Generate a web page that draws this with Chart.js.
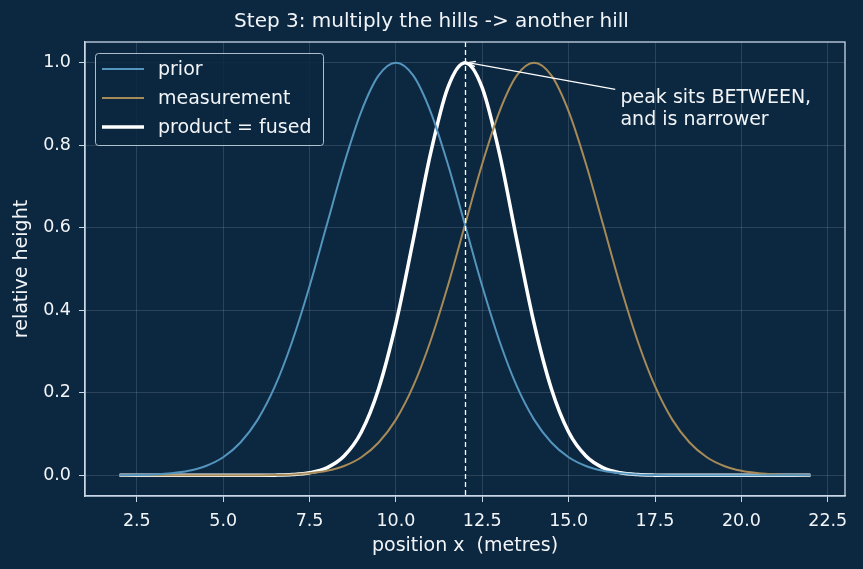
<!DOCTYPE html>
<html>
<head>
<meta charset="utf-8">
<script src="https://cdn.jsdelivr.net/npm/chart.js@4/dist/chart.umd.min.js"></script>
<style>
  html, body { margin: 0; padding: 0; background: #0c2740; }
  #wrap { width: 863px; height: 569px; }
</style>
</head>
<body>
<div id="wrap"><canvas id="chart" width="863" height="569"></canvas></div>
<script>
// positions along the track (metres)
var positions = [2, 2.5, 3, 3.5, 4, 4.5, 5, 5.5, 6, 6.5, 7, 7.5, 8, 8.5, 9, 9.5, 10, 10.5, 11, 11.5,
  12, 12.5, 13, 13.5, 14, 14.5, 15, 15.5, 16, 16.5, 17, 17.5, 18, 18.5, 19, 19.5, 20, 20.5, 21, 21.5, 22];

// hill heights
var prior = [0.0003, 0.0009, 0.0022, 0.0051, 0.0111, 0.0228, 0.0439, 0.0796, 0.135, 0.216, 0.325, 0.458,
  0.607, 0.755, 0.882, 0.969, 1.0, 0.969, 0.882, 0.755, 0.607, 0.458, 0.325, 0.216, 0.135, 0.0796, 0.0439,
  0.0228, 0.0111, 0.0051, 0.0022, 0.0009, 0.0003, 0, 0, 0, 0, 0, 0, 0, 0];
var measurement = [0, 0, 0, 0, 0, 0, 0, 0, 0.0003, 0.0009, 0.0022, 0.0051, 0.0111, 0.0228, 0.0439, 0.0796,
  0.135, 0.216, 0.325, 0.458, 0.607, 0.755, 0.882, 0.969, 1.0, 0.969, 0.882, 0.755, 0.607, 0.458, 0.325,
  0.216, 0.135, 0.0796, 0.0439, 0.0228, 0.0111, 0.0051, 0.0022, 0.0009, 0.0003];
var fused = [0, 0, 0, 0, 0, 0, 0, 0, 0.0001, 0.0005, 0.0019, 0.0063, 0.0183, 0.0468, 0.105, 0.210, 0.368,
  0.570, 0.779, 0.939, 1.0, 0.939, 0.779, 0.570, 0.368, 0.210, 0.105, 0.0468, 0.0183, 0.0063, 0.0019,
  0.0005, 0.0001, 0, 0, 0, 0, 0, 0, 0, 0];

var xTicks = [2.5, 5, 7.5, 10, 12.5, 15, 17.5, 20, 22.5];
var yTicks = [0, 0.2, 0.4, 0.6, 0.8, 1.0];
var peakX = 12;
var titleText = "Step 3: multiply the hills -> another hill";
var noteLines = ["peak sits BETWEEN,", "and is narrower"];

var BG = "#0c2740";
var FG = "#f2f5f8";
var SPINE = "#c9d8e6";
var FONT = "'DejaVu Sans', sans-serif";

function pts(ys) {
  return positions.map(function (x, i) { return { x: x, y: ys[i] }; });
}

Chart.defaults.font.family = FONT;
Chart.defaults.color = FG;

// background, title, top/right spines, dashed peak marker, arrow note, legend
var extras = {
  id: "extras",
  beforeDraw: function (c) {
    var g = c.ctx;
    g.save();
    g.fillStyle = BG;
    g.fillRect(0, 0, c.width, c.height);
    // title centred on the whole figure
    g.fillStyle = FG;
    g.font = "20px " + FONT;
    g.textAlign = "center";
    g.textBaseline = "middle";
    g.fillText(titleText, c.width / 2, 22);
    g.restore();
  },
  afterDatasetsDraw: function (c) {
    var g = c.ctx, a = c.chartArea, xs = c.scales.x, ys = c.scales.y;
    g.save();
    // vertical dashed line at the fused peak
    var px = Math.round(xs.getPixelForValue(peakX)) + 0.5;
    g.strokeStyle = "#ffffff";
    g.lineWidth = 1.3;
    g.setLineDash([5, 3]);
    g.beginPath();
    g.moveTo(px, a.top);
    g.lineTo(px, a.bottom);
    g.stroke();
    g.setLineDash([]);

    // spines
    g.strokeStyle = SPINE;
    g.lineWidth = 1.3;
    g.strokeRect(a.left, a.top, a.right - a.left, a.bottom - a.top);

    // arrow from the note to the peak
    var tipX = xs.getPixelForValue(peakX) + 3, tipY = ys.getPixelForValue(1.0);
    var sx = xs.getPixelForValue(16.35), sy = ys.getPixelForValue(0.935);
    g.strokeStyle = "#ffffff";
    g.lineWidth = 1.3;
    g.beginPath();
    g.moveTo(sx, sy);
    g.lineTo(tipX, tipY);
    g.stroke();
    var ang = Math.atan2(tipY - sy, tipX - sx);
    g.beginPath();
    g.moveTo(tipX - 8 * Math.cos(ang - 0.35), tipY - 8 * Math.sin(ang - 0.35));
    g.lineTo(tipX, tipY);
    g.lineTo(tipX - 8 * Math.cos(ang + 0.35), tipY - 8 * Math.sin(ang + 0.35));
    g.stroke();

    // note text
    g.fillStyle = FG;
    g.font = "19px " + FONT;
    g.textAlign = "left";
    g.textBaseline = "middle";
    var tx = xs.getPixelForValue(16.5);
    g.fillText(noteLines[0], tx, ys.getPixelForValue(0.914));
    g.fillText(noteLines[1], tx, ys.getPixelForValue(0.862));

    // legend
    var lx = 95.5, ly = 53.5, lw = 228, lh = 92;
    g.beginPath();
    g.roundRect(lx, ly, lw, lh, 3);
    g.fillStyle = "rgba(12,39,64,0.85)";
    g.fill();
    g.strokeStyle = "rgba(201,216,230,0.85)";
    g.lineWidth = 1;
    g.stroke();
    var rows = [69, 98, 127];
    c.data.datasets.forEach(function (ds, i) {
      g.strokeStyle = ds.borderColor;
      g.lineWidth = ds.borderWidth;
      g.beginPath();
      g.moveTo(102, rows[i]);
      g.lineTo(144, rows[i]);
      g.stroke();
      g.fillStyle = FG;
      g.font = "19px " + FONT;
      g.fillText(ds.label, 158, rows[i] + 1);
    });
    g.restore();
  }
};

new Chart(document.getElementById("chart"), {
  type: "line",
  data: {
    datasets: [
      { label: "prior", data: pts(prior), borderColor: "#5495bd", borderWidth: 2, pointRadius: 0,
        cubicInterpolationMode: "monotone" },
      { label: "measurement", data: pts(measurement), borderColor: "#a68a57", borderWidth: 2, pointRadius: 0,
        cubicInterpolationMode: "monotone" },
      { label: "product = fused", data: pts(fused), borderColor: "#ffffff", borderWidth: 3.5, pointRadius: 0,
        cubicInterpolationMode: "monotone" }
    ]
  },
  options: {
    responsive: false,
    animation: false,
    layout: { padding: { left: 0, right: 18, top: 42, bottom: 0 } },
    plugins: {
      legend: { display: false },
      tooltip: { enabled: false },
      title: { display: false }
    },
    scales: {
      x: {
        type: "linear",
        min: 1, max: 23,
        afterFit: function (s) { s.height = 73; },
        afterBuildTicks: function (s) { s.ticks = xTicks.map(function (v) { return { value: v }; }); },
        ticks: { color: FG, font: { size: 17.5 }, padding: 9, maxRotation: 0,
          callback: function (v) { return Number(v).toFixed(1); } },
        grid: { color: "rgba(201,216,230,0.16)", tickColor: SPINE, tickLength: 6, lineWidth: 1 },
        border: { color: SPINE, width: 1.3 },
        title: { display: true, text: "position x  (metres)", color: FG, font: { size: 19 },
          padding: { top: 0, bottom: 12 } }
      },
      y: {
        type: "linear",
        min: -0.05, max: 1.05,
        afterFit: function (s) { s.width = 85; },
        afterBuildTicks: function (s) { s.ticks = yTicks.map(function (v) { return { value: v }; }); },
        ticks: { color: FG, font: { size: 17.5 }, padding: 8,
          callback: function (v) { return Number(v).toFixed(1); } },
        grid: { color: "rgba(201,216,230,0.16)", tickColor: SPINE, tickLength: 6, lineWidth: 1 },
        border: { color: SPINE, width: 1.3 },
        title: { display: true, text: "relative height", color: FG, font: { size: 19 },
          padding: { top: 11, bottom: 0 } }
      }
    }
  },
  plugins: [extras]
});
</script>
</body>
</html>
